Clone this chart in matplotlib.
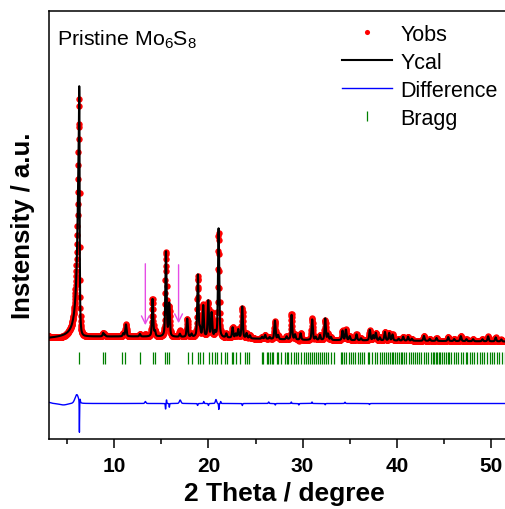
import matplotlib
matplotlib.use('Agg')
import matplotlib.pyplot as plt
import numpy as np

plt.rcParams['font.family'] = ['Liberation Sans', 'DejaVu Sans']
plt.rcParams['mathtext.default'] = 'regular'

# reflection list used for the calculated profile: 2theta (deg) and peak height (counts)
peak_pos = [6.29, 8.83, 9.02, 10.96, 11.24, 12.73, 14.07, 14.32, 15.49, 15.84,
            16.97, 17.75, 18.21, 18.88, 19.10, 19.45, 19.98, 20.34, 20.70, 21.08,
            21.90, 22.57, 22.90, 23.17, 23.59, 24.05, 24.40, 25.70, 26.03, 26.50,
            27.06, 27.40, 28.30, 28.83, 29.20, 29.79, 31.02, 31.40, 31.84, 32.40,
            32.70, 33.00, 34.24, 34.60, 35.00, 35.73, 36.20, 37.14, 37.50, 37.78,
            38.20, 38.74, 39.20, 39.55, 40.20, 40.68, 41.20, 41.60, 42.88, 43.50,
            44.22, 45.46, 46.10, 46.80, 47.40, 48.10, 49.10, 49.70, 50.50, 51.10]
peak_int = [10160, 140, 60, 120, 480, 100, 1520, 200, 3440, 1300,
            120, 740, 120, 2480, 300, 1260, 1440, 960, 200, 4360,
            160, 420, 160, 340, 1280, 200, 120, 80, 160, 80,
            740, 160, 120, 1000, 200, 260, 820, 120, 200, 860,
            240, 120, 380, 420, 160, 240, 80, 420, 200, 300,
            120, 340, 300, 240, 80, 160, 160, 80, 200, 80,
            120, 160, 80, 200, 80, 80, 80, 200, 160, 80]

# background level (counts) at a few angles
bg_pos = [3.0, 7.0, 12.0, 20.0, 30.0, 51.6]
bg_int = [420, 500, 500, 460, 360, 300]

# features of the difference curve (Yobs - Ycal): position, amplitude, fwhm
diff_pos = [3.0, 4.6, 6.02, 6.30, 6.38, 13.30, 15.45, 15.55, 15.85, 17.00,
            18.85, 19.50, 20.00, 20.80, 21.10, 21.30, 23.60, 26.40, 27.10, 28.80,
            29.60, 31.00, 32.40, 34.50, 37.10]
diff_amp = [50, -60, 360, -1280, 120, 80, -240, 160, -160, 140,
            -80, 80, -80, 160, -240, 80, -80, 60, -60, 60,
            -60, 60, -50, 50, -40]
diff_fwhm = [0.6, 1.0, 0.45, 0.04, 0.05, 0.15, 0.06, 0.06, 0.06, 0.2,
             0.08, 0.08, 0.08, 0.15, 0.06, 0.08, 0.08, 0.1, 0.08, 0.08,
             0.08, 0.08, 0.08, 0.1, 0.1]

# Bragg reflection positions (2theta, deg)
bragg = [6.30, 8.81, 9.02, 10.86, 11.18, 12.73, 14.08, 14.32, 15.38, 15.56,
         15.84, 17.86, 18.21, 18.92, 19.10, 19.38, 20.08, 20.34, 20.69, 20.93,
         21.30, 21.75, 21.93, 22.46, 22.63, 22.92, 23.34, 23.88, 24.12, 24.30,
         25.65, 25.82, 26.18, 26.35, 26.53, 26.71, 26.88, 27.24, 27.41, 27.67,
         28.12, 28.30, 28.45, 28.80, 29.05, 29.30, 29.55, 29.85, 30.10, 30.40,
         30.62, 30.80, 31.00, 31.20, 31.45, 31.62, 31.85, 32.05, 32.30, 32.45,
         32.70, 33.05, 33.30, 34.05, 34.20, 34.40, 34.65, 34.90, 35.15, 35.35,
         35.60, 35.85, 36.05, 36.35, 36.55, 36.90, 37.10, 37.40, 37.70, 37.90,
         38.20, 38.40, 38.65, 38.90, 39.10, 39.30, 39.45, 39.65, 39.80, 40.00,
         40.20, 40.40, 40.55, 40.75, 41.00, 41.25, 41.50, 41.75, 41.95, 42.15,
         42.40, 42.60, 42.90, 43.10, 43.35, 43.60, 43.80, 44.00, 44.20, 44.30,
         44.45, 44.60, 44.80, 45.00, 45.20, 45.40, 45.60, 45.75, 46.05, 46.30,
         46.55, 46.80, 47.05, 47.30, 47.50, 47.80, 48.00, 48.25, 48.50, 48.80,
         49.05, 49.30, 49.60, 49.85, 50.10, 50.35, 50.60, 50.90, 51.20, 51.45]

# weak impurity reflections marked with arrows: 2theta, arrow top, arrow tip
arrow_pos = [13.30, 16.83]
arrow_top = [3520, 3480]
arrow_tip = [840, 920]

step = 0.02
tth = np.arange(3.0, 51.6 + step / 2, step)


def pv(x, x0, fwhm, eta=0.5):
    g = np.exp(-4 * np.log(2) * ((x - x0) / fwhm) ** 2)
    l = 1 / (1 + 4 * ((x - x0) / fwhm) ** 2)
    return eta * l + (1 - eta) * g


ycal = np.interp(tth, bg_pos, bg_int).astype(float)
for i, (p, h) in enumerate(zip(peak_pos, peak_int)):
    if i == 0:
        # strong low-angle reflection with its asymmetric tail
        w = np.where(tth < p, 0.40, 0.08)
        ycal += h * (0.85 / (1 + 4 * ((tth - p) / w) ** 2)
                     + 0.15 * np.exp(-4 * np.log(2) * ((tth - p) / 0.06) ** 2))
    else:
        ycal += h * pv(tth, p, 0.15)

diff = np.zeros_like(tth)
for p, a, w in zip(diff_pos, diff_amp, diff_fwhm):
    diff += a * pv(tth, p, w, eta=0.3)
yobs = ycal + diff

diff_offset = -2180
bragg_y = -360

fig = plt.figure(figsize=(5.06, 5.10), dpi=100)
ax = fig.add_axes([49 / 506, 70 / 510, 457 / 506, 428 / 510])

ax.plot(tth, yobs, ls='none', marker='o', ms=4.6, mew=0, color='red', label='Yobs')
ax.plot(tth, ycal, color='black', lw=1.5, label='Ycal')
ax.plot(tth, diff + diff_offset, color='blue', lw=1.0, label='Difference')
ax.plot(bragg, np.full(len(bragg), bragg_y), ls='none', marker='|', ms=8.6, mew=0.9,
        color='green', label='Bragg')

for x, y0, y1 in zip(arrow_pos, arrow_top, arrow_tip):
    ax.annotate('', xy=(x, y1), xytext=(x, y0),
                arrowprops=dict(arrowstyle='->', color='#e64ce6', lw=1.0, mutation_scale=14))

ax.set_xlim(3.07, 51.6)
ax.set_ylim(-3600, 13520)
ax.set_yticks([])
ax.set_xticks([10, 20, 30, 40, 50])
ax.set_xticks([5, 15, 25, 35, 45], minor=True)
ax.tick_params(axis='x', which='major', direction='out', length=6.5, width=1.1,
               labelsize=15, pad=6)
ax.tick_params(axis='x', which='minor', direction='out', length=3.6, width=1.1)
for lab in ax.get_xticklabels():
    lab.set_fontweight('bold')
for s in ax.spines.values():
    s.set_linewidth(1.1)

ax.set_xlabel('2 Theta / degree', fontsize=19, fontweight='bold')
ax.xaxis.set_label_coords(0.514, -0.098)
ax.set_ylabel('Instensity / a.u.', fontsize=18.5, fontweight='bold')
ax.yaxis.set_label_coords(-0.031, 0.5)

ax.text(0.017, 0.962, 'Pristine Mo$_6$S$_8$', transform=ax.transAxes, fontsize=15.4,
        va='top', ha='left')

leg = ax.legend(loc='upper left', bbox_to_anchor=(0.618, 0.995), frameon=False,
                fontsize=15.5, handlelength=2.3, handletextpad=0.4, labelspacing=0.32,
                borderpad=0, markerscale=0.8)

plt.savefig('out.png', dpi=100)
